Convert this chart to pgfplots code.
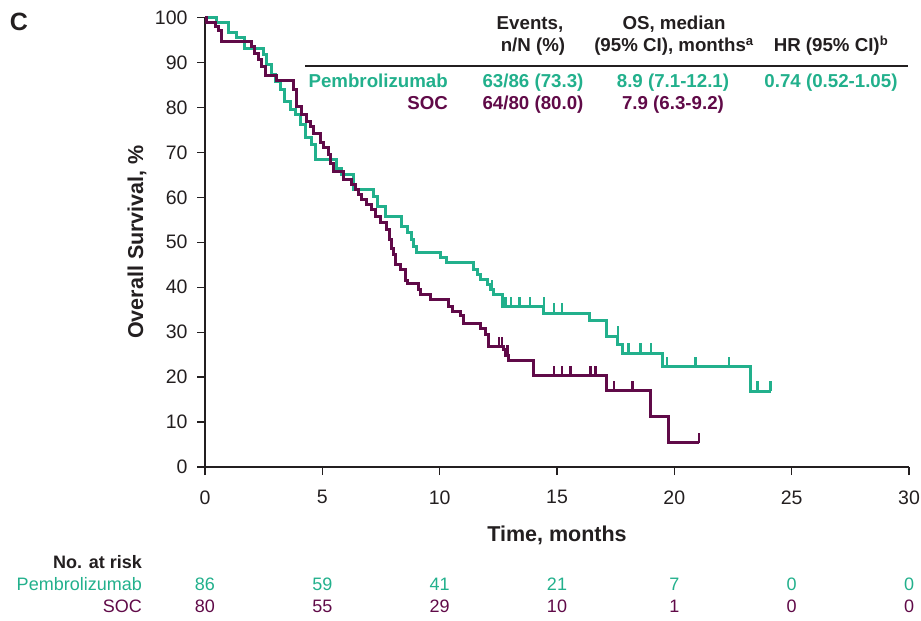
\documentclass[border=0pt]{standalone}
\usepackage{pgfplots}
\pgfplotsset{compat=1.18}
\usepackage{fontspec}
\setmainfont{Liberation Sans}
\definecolor{pem}{RGB}{34,176,140}
\definecolor{soc}{RGB}{96,10,72}
\definecolor{ink}{RGB}{35,31,32}
\pgfdeclareplotmark{cens}{\pgfpathmoveto{\pgfpointorigin}\pgfpathlineto{\pgfpoint{0pt}{10pt}}\pgfusepathqstroke}
\newcommand{\fs}[1]{\fontsize{#1}{#1}\selectfont}
\begin{document}
\begin{tikzpicture}
\path[use as bounding box] (0pt,0pt) rectangle (921pt,-621pt);
\begin{axis}[
  at={(205pt,-467pt)}, anchor=south west,
  scale only axis, width=704pt, height=449.5pt,
  xmin=0, xmax=30, ymin=0, ymax=100,
  axis lines*=left,
  axis line style={ink, line width=1.3pt},
  xtick={0,5,...,30}, ytick={0,10,...,100},
  tick align=outside, major tick length=8pt,
  tick style={ink, line width=1.3pt},
  ticklabel style={font=\fs{19.5}, text=ink},
  xticklabel style={yshift=-12pt},
  yticklabel style={xshift=-6pt},
  /pgf/number format/assume math mode=true,
  clip=false,
]
% Pembrolizumab
\addplot[const plot, pem, line width=3pt] coordinates {
(0,100) (0.50,98.8) (1.0,96.6) (1.35,95.5) (1.68,93.0) (2.49,91.8) (2.63,89.5)
(2.82,87.3) (2.99,85.8) (3.2,84.0) (3.39,81.4) (3.63,79.5) (3.85,78.4) (4.05,76.2)
(4.27,73.2) (4.55,71.7) (4.69,68.4) (5.62,66.5) (5.83,65.0) (6.33,61.7) (7.18,60.2)
(7.33,58.0) (7.68,55.7) (8.39,53.5) (8.61,52.2) (8.82,50.6) (8.89,49.1) (9.03,47.7)
(10.03,46.5) (10.31,45.4) (11.45,43.9) (11.6,42.8) (11.74,41.8) (12.02,40.5)
(12.16,39.4) (12.3,38.3) (12.66,35.7) (14.44,34.2) (16.4,32.6) (17.09,29.1)
(17.57,27.2) (17.78,25.3) (19.49,22.3) (23.26,16.8) (24.1,16.8)};
\addplot[only marks, mark=cens, pem, mark options={line width=2.5pt}] coordinates {
(12.23,39.4) (12.8,35.7) (13.05,35.7) (13.4,35.7) (13.85,35.7) (14.44,35.7)
(14.87,34.2) (15.22,34.2) (17.6,29.1) (18.05,25.3) (18.55,25.3) (19.0,25.3)
(19.68,22.3) (20.9,22.3) (22.33,22.3) (23.55,16.8) (24.1,16.8)};
% SOC
\addplot[const plot, soc, line width=3pt] coordinates {
(0,100) (0.07,98.8) (0.43,98.1) (0.57,97.0) (0.71,94.7) (1.99,93.6) (2.13,92.1)
(2.28,90.6) (2.42,89.2) (2.56,87.0) (3.05,86.0) (3.77,84.0) (3.91,80.2) (4.13,78.4)
(4.34,76.9) (4.48,75.8) (4.62,74.3) (4.91,72.1) (5.05,71.0) (5.26,69.5) (5.33,67.6)
(5.48,65.8) (5.9,63.9) (6.26,62.8) (6.4,61.7) (6.54,60.6) (6.69,59.5) (6.9,58.4)
(7.11,57.2) (7.26,55.7) (7.47,54.3) (7.75,52.8) (7.85,50.6) (7.95,48.7) (8.04,47.2)
(8.11,45.0) (8.32,43.9) (8.54,41.6) (8.61,40.9) (9.1,39.4) (9.18,38.3) (9.6,37.2)
(10.38,35.7) (10.53,34.6) (10.88,33.6) (11.02,32.0) (11.74,30.9) (11.95,29.4)
(12.09,26.8) (12.74,26.1) (12.8,24.9) (12.94,23.8) (14.01,20.3) (17.12,17.0)
(18.97,11.2) (19.73,5.4) (21.06,5.4)};
\addplot[only marks, mark=cens, soc, mark options={line width=2.5pt}] coordinates {
(12.52,26.8) (12.66,26.8) (12.9,24.9) (14.87,20.3) (15.22,20.3) (15.58,20.3)
(16.43,20.3) (16.65,20.3) (17.43,17.0) (18.21,17.0) (21.06,5.4)};
\end{axis}
% panel letter
\node[font=\bfseries\fs{25}, text=ink] at (19pt,-22pt) {C};
% axis titles
\node[font=\bfseries\fs{21.5}, text=ink] at (557pt,-535pt) {Time, months};
\node[font=\bfseries\fs{21.5}, text=ink, rotate=90] at (137pt,-242pt) {Overall Survival, \%};
% table header
\draw[ink, line width=1.3pt] (305pt,-66pt) -- (908pt,-66pt);
\begin{scope}[every node/.style={font=\bfseries\fs{18.7}, text=ink, inner sep=0pt}]
\node[anchor=mid] at (530pt,-27pt) {Events,};
\node[anchor=mid] at (533pt,-49pt) {n/N (\%)};
\node[anchor=mid] at (674pt,-27pt) {OS, median};
\node[anchor=mid] at (674pt,-49pt) {(95\% CI), months\textsuperscript{a}};
\node[anchor=mid] at (831pt,-49pt) {HR (95\% CI)\textsuperscript{b}};
\node[anchor=mid east, text=pem] at (448pt,-85pt) {Pembrolizumab};
\node[anchor=mid, text=pem] at (533pt,-85pt) {63/86 (73.3)};
\node[anchor=mid, text=pem] at (673pt,-85pt) {8.9 (7.1-12.1)};
\node[anchor=mid, text=pem] at (831pt,-85pt) {0.74 (0.52-1.05)};
\node[anchor=mid east, text=soc] at (448pt,-106.5pt) {SOC};
\node[anchor=mid, text=soc] at (533pt,-106.5pt) {64/80 (80.0)};
\node[anchor=mid, text=soc] at (673pt,-106.5pt) {7.9 (6.3-9.2)};
\end{scope}
% number at risk
\begin{scope}[every node/.style={font=\fs{18}, inner sep=0pt}]
\node[anchor=mid east, font=\bfseries\fs{18}, text=ink] at (142pt,-566pt) {No. at risk};
\node[anchor=mid east, text=pem] at (142pt,-588pt) {Pembrolizumab};
\node[anchor=mid east, text=soc] at (142pt,-610pt) {SOC};
\foreach \x/\a/\b in {205/86/80, 322.3/59/55, 439.7/41/29, 557/21/10, 674.3/7/1, 791.7/0/0, 909/0/0}{
  \node[anchor=mid, text=pem] at (\x pt,-588pt) {\a};
  \node[anchor=mid, text=soc] at (\x pt,-610pt) {\b};
}
\end{scope}
\end{tikzpicture}
\end{document}
